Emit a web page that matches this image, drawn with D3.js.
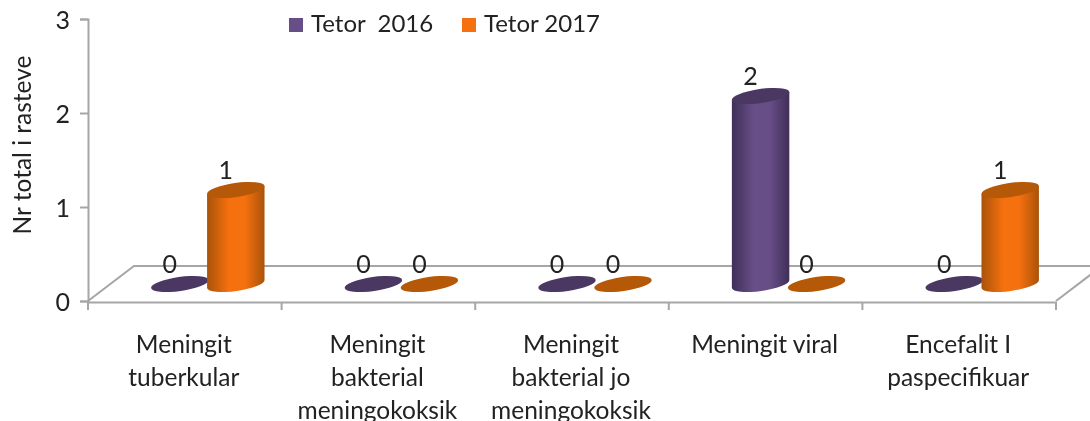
<!DOCTYPE html>
<html>
<head>
<meta charset="utf-8">
<script src="https://cdn.jsdelivr.net/npm/d3@7"></script>
<style>
  html, body { margin: 0; padding: 0; background: #fff; overflow: hidden; }
  svg { display: block; font-family: Lato, sans-serif; }
  text { fill: #222; white-space: pre; }
</style>
</head>
<body>
<script>
const categories = ["Meningit tuberkular", "Meningit bakterial meningokoksik", "Meningit bakterial jo meningokoksik", "Meningit viral", "Encefalit I paspecifikuar"];
const categoryLines = [["Meningit", "tuberkular"], ["Meningit", "bakterial", "meningokoksik"], ["Meningit", "bakterial jo", "meningokoksik"], ["Meningit viral"], ["Encefalit I", "paspecifikuar"]];
const seriesNames = ["Tetor  2016", "Tetor 2017"];
const tetor2016 = [0, 0, 0, 2, 0];
const tetor2017 = [1, 0, 0, 0, 1];
const yTicks = [0, 1, 2, 3];
const yTitle = "Nr total i rasteve";

const width = 1090, height = 421;
const axisColor = "#a6a6a6";

const svg = d3.select("body").append("svg")
    .attr("width", width)
    .attr("height", height)
    .attr("viewBox", `0 0 ${width} ${height}`);

const x0 = d3.scaleBand().domain(categories).range([88, 1056]);
const x1 = d3.scaleBand().domain(seriesNames).range([-33, 79]);
const y = d3.scaleLinear().domain([0, 3]).range([301, 19]);

// gradients across the cylinder, dark on the edges
const colors = {
    [seriesNames[0]]: { edge: "#3f2f58", mid: "#684e87", top: "#4a3762", id: "grad2016" },
    [seriesNames[1]]: { edge: "#a9530a", mid: "#f5700e", top: "#b55807", id: "grad2017" }
};
const defs = svg.append("defs");
Object.values(colors).forEach(c => {
    const g = defs.append("linearGradient").attr("id", c.id);
    g.append("stop").attr("offset", "0%").attr("stop-color", c.edge);
    g.append("stop").attr("offset", "38%").attr("stop-color", c.mid);
    g.append("stop").attr("offset", "66%").attr("stop-color", c.mid);
    g.append("stop").attr("offset", "100%").attr("stop-color", c.edge);
});

// floor of the 3d box
const depthX = 46, depthY = 35;
const floor = svg.append("g").attr("fill", "none").attr("stroke", axisColor).attr("stroke-width", 2);
floor.append("path").attr("d", `M${x0.range()[0]},${y(0)}l${depthX},${-depthY}H${width}`);
floor.append("path").attr("d", `M${x0.range()[1]},${y(0)}l${depthX},${-depthY}`);

// axes
const yAxis = d3.axisLeft(y).tickValues(yTicks).tickSize(8).tickPadding(10).tickFormat(d3.format("d"));
const gy = svg.append("g").attr("transform", `translate(${x0.range()[0]},0)`).call(yAxis).attr("font-family", null);
gy.selectAll("text").style("font-size", "25px").attr("dy", "0.36em");

const xAxis = d3.axisBottom(x0).tickValues([]).tickSizeOuter(0);
const gx = svg.append("g").attr("transform", `translate(0,${y(0) + 1})`).call(xAxis);
gx.selectAll(".edge")
    .data(d3.range(categories.length + 1))
    .join("line")
    .attr("class", "edge")
    .attr("x1", i => x0.range()[0] + i * x0.step())
    .attr("x2", i => x0.range()[0] + i * x0.step())
    .attr("y1", 0)
    .attr("y2", 8);

svg.selectAll(".domain, .tick line, .edge")
    .attr("stroke", axisColor)
    .attr("stroke-width", 2);

// category labels
const labels = svg.append("g").attr("text-anchor", "middle").style("font-size", "24.5px");
categoryLines.forEach((lines, i) => {
    lines.forEach((line, j) => {
        labels.append("text")
            .attr("x", x0(categories[i]) + x0.bandwidth() / 2 - 1)
            .attr("y", 353 + j * 33)
            .text(line);
    });
});

svg.append("text")
    .attr("transform", "translate(31,145) rotate(-90)")
    .attr("text-anchor", "middle")
    .style("font-size", "24.5px")
    .text(yTitle);

// cylinders
const rx = 29, ry = 7, tilt = -8, lift = 17;
const tiltRad = tilt * Math.PI / 180;
const ex = rx * Math.cos(tiltRad), ey = rx * Math.sin(tiltRad);

const rows = categories.flatMap((c, i) => [
    { cat: c, series: seriesNames[0], value: tetor2016[i] },
    { cat: c, series: seriesNames[1], value: tetor2017[i] }
]);

const bars = svg.append("g").selectAll("g")
    .data(rows)
    .join("g")
    .attr("transform", d => `translate(${x0(d.cat) + x0.bandwidth() / 2 + x1(d.series) + x1.bandwidth() / 2},0)`);

bars.filter(d => d.value > 0).append("path")
    .attr("fill", d => `url(#${colors[d.series].id})`)
    .attr("d", d => {
        const yb = y(0) - lift, yt = y(d.value) - lift;
        return `M${-ex},${yt - ey}L${ex},${yt + ey}L${ex},${yb + ey}`
            + `A${rx},${ry} ${tilt} 0 1 ${-ex},${yb - ey}Z`;
    });

bars.append("ellipse")
    .attr("rx", rx)
    .attr("ry", ry)
    .attr("transform", d => `translate(0,${y(d.value) - lift}) rotate(${tilt})`)
    .attr("fill", d => colors[d.series].top);

// value labels
bars.append("text")
    .attr("x", -10)
    .attr("y", d => y(d.value) - 28)
    .attr("text-anchor", "middle")
    .style("font-size", "25px")
    .text(d => d.value);

// legend
const legendX = [289, 462];
const legend = svg.append("g").selectAll("g")
    .data(seriesNames)
    .join("g")
    .attr("transform", (d, i) => `translate(${legendX[i]},18)`);
legend.append("rect")
    .attr("width", 14)
    .attr("height", 14)
    .attr("fill", d => colors[d].mid);
legend.append("text")
    .attr("x", 22)
    .attr("y", 14)
    .style("font-size", "24px")
    .text(d => d);

svg.style("filter", "blur(0.6px)");
</script>
</body>
</html>
